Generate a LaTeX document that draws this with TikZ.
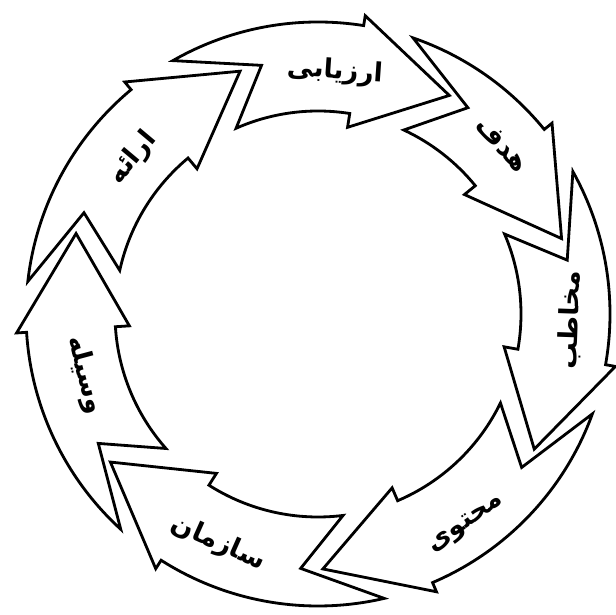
\documentclass[tikz,border=0pt]{standalone}
\usepackage{fontspec}
\newfontfamily\farsi[Script=Arabic]{DejaVu Sans}
\TeXXeTstate=1

\tikzset{
  cyclearrow/.style={draw, line width=1.6pt, fill=white, line join=miter},
  cyclelabel/.style={font=\farsi\bfseries\fontsize{15}{17}\selectfont, inner sep=0pt}
}

% outer, inner and middle radius of the ring
\def\Ro{5.84}
\def\Ri{4.06}
\def\Rm{5.1}

% #1 = tip angle of the arrow before, #2 = own tip angle
\newcommand{\cycarrow}[2]{%
  \draw[cyclearrow] ({#1+12}:\Ro) arc[start angle={#1+12}, end angle={#2+22}, radius=\Ro]
    -- ({#2+22}:{\Ro+0.2}) -- (#2:\Rm) -- ({#2+22}:{\Ri-0.28}) -- ({#2+22}:\Ri)
    arc[start angle={#2+22}, end angle={#1+6}, radius=\Ri]
    -- ({#1-5}:\Rm) -- cycle;}

\begin{document}
\begin{tikzpicture}
  \useasboundingbox (-6.36,-6.02) rectangle (5.96,6.28);

  % the seven arrows, clockwise
  \cycarrow{107.8}{59}
  \cycarrow{59}{17.2}
  \cycarrow{17.2}{-32}
  \cycarrow{-32}{-88.9}
  \cycarrow{-88.9}{-144.5}
  \cycarrow{-144.5}{-198.4}
  \cycarrow{-198.4}{-252.2}

  % labels
  \node[cyclelabel, rotate=-4]  (arzyabi) at (86:4.86)     {\beginR ارزیابی\endR};
  \node[cyclelabel, rotate=-47] (hadaf)   at (42.6:5.0)    {\beginR هدف\endR};
  \node[cyclelabel, rotate=88]  (mokhatab) at (-1.4:5.04)  {\beginR مخاطب\endR};
  \node[cyclelabel, rotate=35]  (mohtava) at (-54.8:5.16)  {\beginR محتوی\endR};
  \node[cyclelabel, rotate=-24] (sazman)  at (-113.6:5.0)  {\beginR سازمان\endR};
  \node[cyclelabel, rotate=-75] (vasileh) at (-165.3:4.82) {\beginR وسیله\endR};
  \node[cyclelabel, rotate=50]  (eraeh)   at (139.9:4.84)  {\beginR ارائه\endR};
\end{tikzpicture}
\end{document}
